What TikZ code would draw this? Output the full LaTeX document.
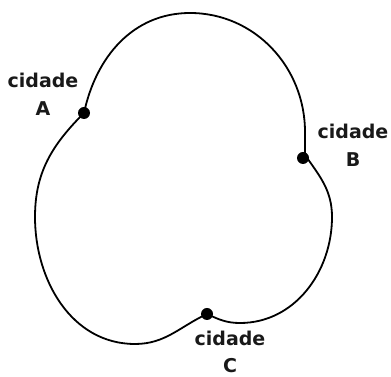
\documentclass[tikz,border=0pt]{standalone}
\usepackage{fontspec}
\newfontfamily\lblfont{DejaVu Sans}
\begin{document}
\begin{tikzpicture}[x=1pt,y=1pt,
  curve/.style={line width=1.8pt,black},
  city/.style={circle,fill=black,inner sep=0pt,minimum size=12pt},
  lbl/.style={font=\lblfont\bfseries\fontsize{19}{22}\selectfont,text=black!90,anchor=base,inner sep=0pt}]
\useasboundingbox (0,0) rectangle (391,377);
\coordinate (A) at (84,264);
\coordinate (B) at (303,219);
\coordinate (C) at (207,63);
\draw[curve] (A) to[out=78,in=180] (190,364) to[out=0,in=90] (305,245) -- (305,222)
  to[out=-55,in=90] (332,160) to[out=-90,in=0] (240,54) to[out=180,in=-25] (C)
  to[out=205,in=0] (135,33) to[out=180,in=-90] (35,160) to[out=90,in=225] (A);
\node[city] (cA) at (A) {};
\node[city] (cB) at (B) {};
\node[city] (cC) at (C) {};
\node[lbl] (tA1) at (43,289) {cidade};
\node[lbl] (tA2) at (43,261) {A};
\node[lbl] (tB1) at (353,238) {cidade};
\node[lbl] (tB2) at (353,210) {B};
\node[lbl] (tC1) at (230,31) {cidade};
\node[lbl] (tC2) at (230,4) {C};
\end{tikzpicture}
\end{document}
